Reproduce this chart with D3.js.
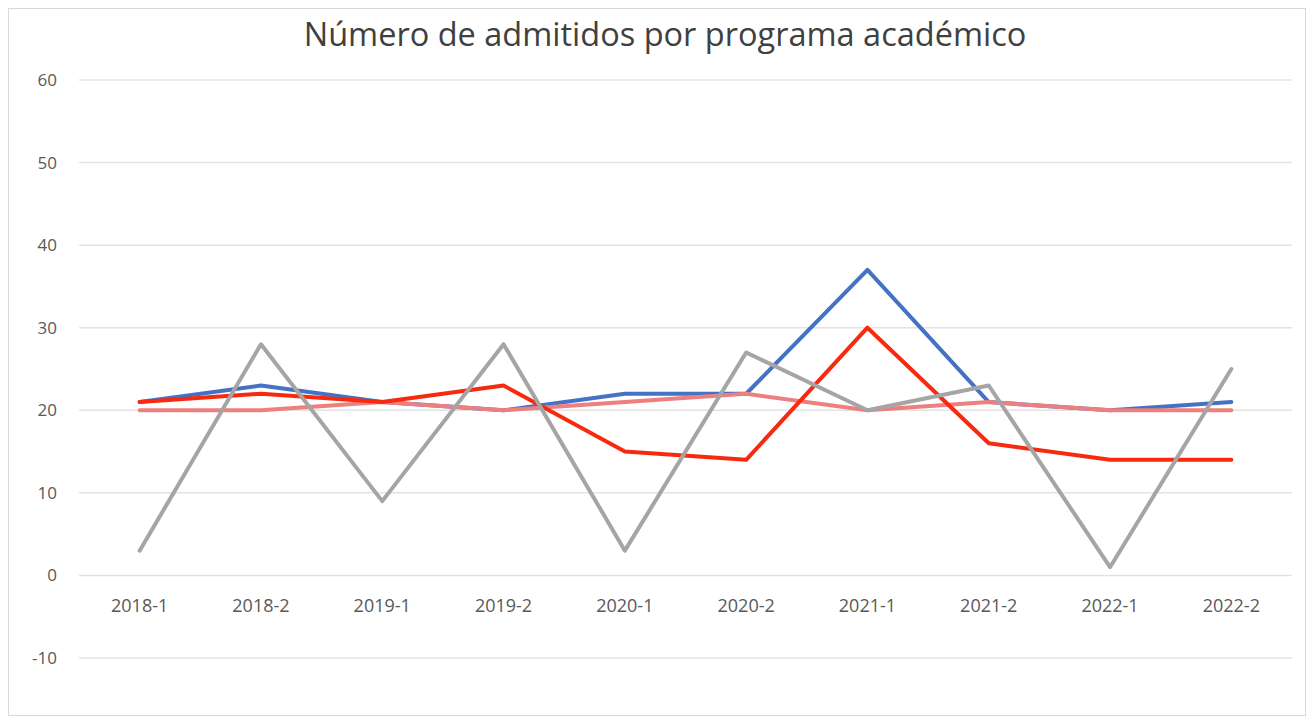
<!DOCTYPE html>
<html>
<head>
<meta charset="utf-8">
<script src="https://cdn.jsdelivr.net/npm/d3@7"></script>
<style>
  body { margin: 0; background: #fff; }
  #chart text { font-family: "Open Sans", "Noto Sans", sans-serif; }
</style>
</head>
<body>
<div id="chart"></div>
<script>
// data
const periods = ["2018-1", "2018-2", "2019-1", "2019-2", "2020-1", "2020-2", "2021-1", "2021-2", "2022-1", "2022-2"];
const blueSeries = [21, 23, 21, 20, 22, 22, 37, 21, 20, 21];
const pinkSeries = [20, 20, 21, 20, 21, 22, 20, 21, 20, 20];
const redSeries = [21, 22, 21, 23, 15, 14, 30, 16, 14, 14];
const graySeries = [3, 28, 9, 28, 3, 27, 20, 23, 1, 25];
const yTicks = [-10, 0, 10, 20, 30, 40, 50, 60];

const width = 1314, height = 722;
const margin = {top: 80, right: 22, bottom: 64, left: 79};

const series = [
	{values: blueSeries, color: "#4472c4"},
	{values: pinkSeries, color: "#ee7f7f"},
	{values: redSeries, color: "#f7290f"},
	{values: graySeries, color: "#a5a5a5"}
];

const svg = d3.select("#chart").append("svg")
	.attr("width", width)
	.attr("height", height);

// chart frame
svg.append("rect")
	.attr("x", 8.5).attr("y", 8.5)
	.attr("width", width - 17).attr("height", height - 15)
	.attr("fill", "#fff")
	.attr("stroke", "#d9d9d9");

const x = d3.scaleBand()
	.domain(periods)
	.range([margin.left, width - margin.right]);

const y = d3.scaleLinear()
	.domain([-10, 60])
	.range([height - margin.bottom, margin.top]);

// horizontal gridlines
svg.append("g")
	.selectAll("line")
	.data(yTicks)
	.enter().append("line")
	.attr("x1", margin.left)
	.attr("x2", width - margin.right)
	.attr("y1", d => y(d))
	.attr("y2", d => y(d))
	.attr("stroke", "#e3e3e3")
	.attr("stroke-width", 1.5);

// y labels
svg.append("g")
	.selectAll("text")
	.data(yTicks)
	.enter().append("text")
	.attr("x", 57)
	.attr("y", d => y(d))
	.attr("dy", "0.35em")
	.attr("text-anchor", "end")
	.attr("font-size", 17)
	.attr("fill", "#595959")
	.text(d => d);

// x labels, placed under the zero line like Excel does
svg.append("g")
	.selectAll("text")
	.data(periods)
	.enter().append("text")
	.attr("x", d => x(d) + x.bandwidth() / 2)
	.attr("y", y(0) + 30)
	.attr("dy", "0.35em")
	.attr("text-anchor", "middle")
	.attr("font-size", 18)
	.attr("fill", "#595959")
	.text(d => d);

const line = d3.line()
	.x((d, i) => x(periods[i]) + x.bandwidth() / 2)
	.y(d => y(d));

svg.append("g")
	.selectAll("path")
	.data(series)
	.enter().append("path")
	.attr("d", d => line(d.values))
	.attr("fill", "none")
	.attr("stroke", d => d.color)
	.attr("stroke-width", 4)
	.attr("stroke-linejoin", "round")
	.attr("stroke-linecap", "round");

// title
svg.append("text")
	.attr("x", 665)
	.attr("y", 35)
	.attr("dy", "0.35em")
	.attr("text-anchor", "middle")
	.attr("font-size", 32.5)
	.attr("fill", "#404040")
	.text("Número de admitidos por programa académico");
</script>
</body>
</html>
